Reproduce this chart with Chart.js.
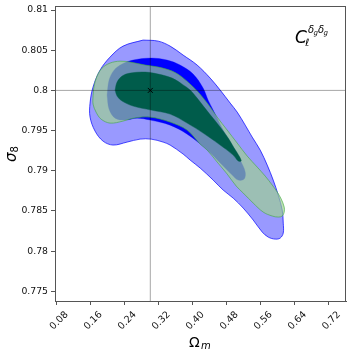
<!DOCTYPE html>
<html>
<head>
<meta charset="utf-8">
<script src="https://cdn.jsdelivr.net/npm/chart.js@4.4.1/dist/chart.umd.min.js"></script>
<style>
  html, body { margin: 0; padding: 0; background: #fff; }
</style>
</head>
<body>
<canvas id="chart" width="353" height="352"></canvas>
<script>
// tick positions and labels
const xTicks = [0.08, 0.16, 0.24, 0.32, 0.40, 0.48, 0.56, 0.64, 0.72];
const xTickLabels = ['0.08', '0.16', '0.24', '0.32', '0.40', '0.48', '0.56', '0.64', '0.72'];
const yTicks = [0.775, 0.78, 0.785, 0.79, 0.795, 0.8, 0.805, 0.81];
const yTickLabels = ['0.775', '0.78', '0.785', '0.79', '0.795', '0.8', '0.805', '0.81'];

// fiducial cosmology
const fiducialOm = 0.3;
const fiducialS8 = 0.8;

// contour outlines, [Omega_m, sigma_8]
const blueOuter = [
  [0.2831, 0.80626], [0.3184, 0.80613], [0.3466, 0.80551], [0.3772, 0.80439], [0.4101, 0.80315],
  [0.4407, 0.80153], [0.4642, 0.80004], [0.4878, 0.79842], [0.5042, 0.79730], [0.5231, 0.79568],
  [0.5395, 0.79419], [0.5584, 0.79257], [0.5748, 0.79071], [0.5889, 0.78884], [0.6007, 0.78698],
  [0.6101, 0.78511], [0.6125, 0.78349], [0.6125, 0.78225], [0.6054, 0.78163], [0.5936, 0.78150],
  [0.5772, 0.78175], [0.5631, 0.78238], [0.5419, 0.78387], [0.5184, 0.78536], [0.4948, 0.78660],
  [0.4713, 0.78760], [0.4478, 0.78884], [0.4172, 0.79034], [0.3937, 0.79133], [0.3772, 0.79208],
  [0.3466, 0.79320], [0.3301, 0.79357], [0.3019, 0.79394], [0.2760, 0.79394], [0.2454, 0.79357],
  [0.2125, 0.79320], [0.1889, 0.79369], [0.1701, 0.79494], [0.1584, 0.79668], [0.1584, 0.79842],
  [0.1654, 0.80041], [0.1819, 0.80252], [0.2054, 0.80414], [0.2360, 0.80551]
];
const blueInner = [
  [0.1984, 0.79942], [0.2031, 0.80128], [0.2148, 0.80252], [0.2337, 0.80327], [0.2595, 0.80377],
  [0.3019, 0.80402], [0.3395, 0.80377], [0.3701, 0.80315], [0.4007, 0.80203], [0.4242, 0.80029],
  [0.4360, 0.79879], [0.4478, 0.79755], [0.4713, 0.79506], [0.4948, 0.79295], [0.5113, 0.79133],
  [0.5231, 0.78984], [0.5207, 0.78897], [0.5066, 0.78884], [0.4925, 0.78946], [0.4642, 0.79096],
  [0.4289, 0.79282], [0.3866, 0.79456], [0.3466, 0.79568], [0.2995, 0.79631], [0.2689, 0.79655],
  [0.2407, 0.79631], [0.2172, 0.79655], [0.2031, 0.79767]
];
const greenOuter = [
  [0.1654, 0.79929], [0.1678, 0.80053], [0.1748, 0.80178], [0.1866, 0.80277], [0.2054, 0.80340],
  [0.2289, 0.80364], [0.2525, 0.80352], [0.2878, 0.80315], [0.3184, 0.80290], [0.3513, 0.80240],
  [0.3748, 0.80165], [0.3960, 0.80066], [0.4125, 0.79979], [0.4337, 0.79842], [0.4572, 0.79668],
  [0.4807, 0.79506], [0.5042, 0.79345], [0.5278, 0.79183], [0.5513, 0.79046], [0.5701, 0.78934],
  [0.5866, 0.78822], [0.5984, 0.78735], [0.6078, 0.78648], [0.6148, 0.78548], [0.6148, 0.78486],
  [0.6101, 0.78437], [0.6007, 0.78424], [0.5866, 0.78437], [0.5654, 0.78486], [0.5419, 0.78598],
  [0.5184, 0.78723], [0.5019, 0.78810], [0.4807, 0.78959], [0.4572, 0.79108], [0.4337, 0.79257],
  [0.4172, 0.79332], [0.3866, 0.79506], [0.3466, 0.79606], [0.2995, 0.79668], [0.2595, 0.79655],
  [0.2360, 0.79618], [0.2054, 0.79593], [0.1842, 0.79643], [0.1725, 0.79730], [0.1654, 0.79830]
];
const greenInner = [
  [0.2172, 0.80004], [0.2219, 0.80103], [0.2337, 0.80178], [0.2525, 0.80215], [0.2878, 0.80228],
  [0.3184, 0.80203], [0.3513, 0.80153], [0.3748, 0.80078], [0.3937, 0.80004], [0.4101, 0.79904],
  [0.4266, 0.79792], [0.4454, 0.79668], [0.4642, 0.79544], [0.4831, 0.79407], [0.4972, 0.79282],
  [0.5089, 0.79183], [0.5137, 0.79121], [0.5066, 0.79121], [0.4948, 0.79195], [0.4642, 0.79320],
  [0.4242, 0.79469], [0.3866, 0.79593], [0.3466, 0.79705], [0.3019, 0.79755], [0.2595, 0.79805],
  [0.2337, 0.79867], [0.2219, 0.79929]
];

const xMin = 0.076, xMax = 0.76;
const yMin = 0.7738, yMax = 0.8105;

// close the outline so the border joins up
function loop(pts) {
  const out = pts.map(p => ({ x: p[0], y: p[1] }));
  out.push({ x: pts[0][0], y: pts[0][1] });
  return out;
}

function contour(pts, fillColor, lineColor, lineWidth, order) {
  return {
    data: loop(pts),
    showLine: true,
    fill: 'shape',
    backgroundColor: fillColor,
    borderColor: lineColor,
    borderWidth: lineWidth,
    tension: 0.35,
    pointRadius: 0,
    order: order
  };
}

// frame, axis titles and the label in the corner
const decorations = {
  id: 'decorations',
  afterDraw(chart) {
    const ctx = chart.ctx;
    const a = chart.chartArea;
    ctx.save();
    ctx.strokeStyle = '#555';
    ctx.lineWidth = 1;
    ctx.strokeRect(a.left + 0.5, a.top + 0.5, a.right - a.left - 1, a.bottom - a.top);

    ctx.fillStyle = '#000';
    ctx.textBaseline = 'alphabetic';
    ctx.textAlign = 'left';
    // x title
    ctx.font = '14px "DejaVu Sans"';
    ctx.fillText('Ω', 189, 347);
    ctx.font = 'italic 10px "DejaVu Sans"';
    ctx.fillText('m', 201, 349);
    // y title
    ctx.save();
    ctx.translate(16, 162);
    ctx.rotate(-Math.PI / 2);
    ctx.font = 'italic 15px "DejaVu Sans"';
    ctx.fillText('σ', 0, 0);
    const w = ctx.measureText('σ').width;
    ctx.font = '10px "DejaVu Sans"';
    ctx.fillText('8', w, 2);
    ctx.restore();
    // C_l^{dg dg}
    ctx.font = 'italic 17px "DejaVu Sans"';
    ctx.fillText('C', 295, 43);
    ctx.font = 'italic 10px "DejaVu Sans"';
    ctx.fillText('ℓ', 305, 46);
    ctx.fillText('δ', 308, 33);
    ctx.fillText('δ', 318, 33);
    ctx.font = 'italic 7px "DejaVu Sans"';
    ctx.fillText('g', 313.5, 35);
    ctx.fillText('g', 323.5, 35);
    ctx.restore();
  }
};

new Chart(document.getElementById('chart'), {
  type: 'scatter',
  data: {
    datasets: [
      {
        data: [{ x: fiducialOm, y: fiducialS8 }],
        pointStyle: 'crossRot',
        pointRadius: 3.5,
        borderColor: '#000',
        borderWidth: 1,
        order: 0
      },
      {
        data: [{ x: fiducialOm, y: yMin }, { x: fiducialOm, y: yMax }],
        showLine: true,
        borderColor: 'rgba(0,0,0,0.5)',
        borderWidth: 0.7,
        pointRadius: 0,
        order: 1
      },
      {
        data: [{ x: xMin, y: fiducialS8 }, { x: xMax, y: fiducialS8 }],
        showLine: true,
        borderColor: 'rgba(0,0,0,0.5)',
        borderWidth: 0.7,
        pointRadius: 0,
        order: 1
      },
      contour(greenInner, '#005c4b', 'rgba(0,92,75,0.8)', 0.5, 2),
      contour(greenOuter, 'rgba(157,209,143,0.67)', 'rgba(70,170,70,0.8)', 0.8, 3),
      contour(blueInner, '#0000ff', 'rgba(0,0,255,0.6)', 0.5, 4),
      contour(blueOuter, 'rgba(0,0,255,0.4)', 'rgba(0,0,255,0.7)', 1, 5)
    ]
  },
  options: {
    responsive: false,
    animation: false,
    layout: { padding: { top: 6, right: 7, left: 0, bottom: 0 } },
    plugins: {
      legend: { display: false },
      tooltip: { enabled: false }
    },
    scales: {
      x: {
        type: 'linear',
        min: xMin,
        max: xMax,
        afterBuildTicks: s => { s.ticks = xTicks.map(v => ({ value: v })); },
        afterFit: s => { s.height = 51; s.paddingLeft = 0; s.paddingRight = 0; },
        grid: { drawOnChartArea: false, tickLength: 4, color: '#555' },
        border: { color: '#555' },
        ticks: {
          minRotation: 45,
          maxRotation: 45,
          labelOffset: 10,
          padding: 4,
          color: '#111',
          font: { family: 'DejaVu Sans', size: 9.6 },
          callback: (v, i) => xTickLabels[i]
        }
      },
      y: {
        type: 'linear',
        min: yMin,
        max: yMax,
        afterBuildTicks: s => { s.ticks = yTicks.map(v => ({ value: v })); },
        afterFit: s => { s.width = 55; s.paddingTop = 0; s.paddingBottom = 0; },
        grid: { drawOnChartArea: false, tickLength: 4, color: '#555' },
        border: { color: '#555' },
        ticks: {
          padding: 3,
          color: '#111',
          font: { family: 'DejaVu Sans', size: 9.3 },
          callback: (v, i) => yTickLabels[i]
        }
      }
    }
  },
  plugins: [decorations]
});
</script>
</body>
</html>
